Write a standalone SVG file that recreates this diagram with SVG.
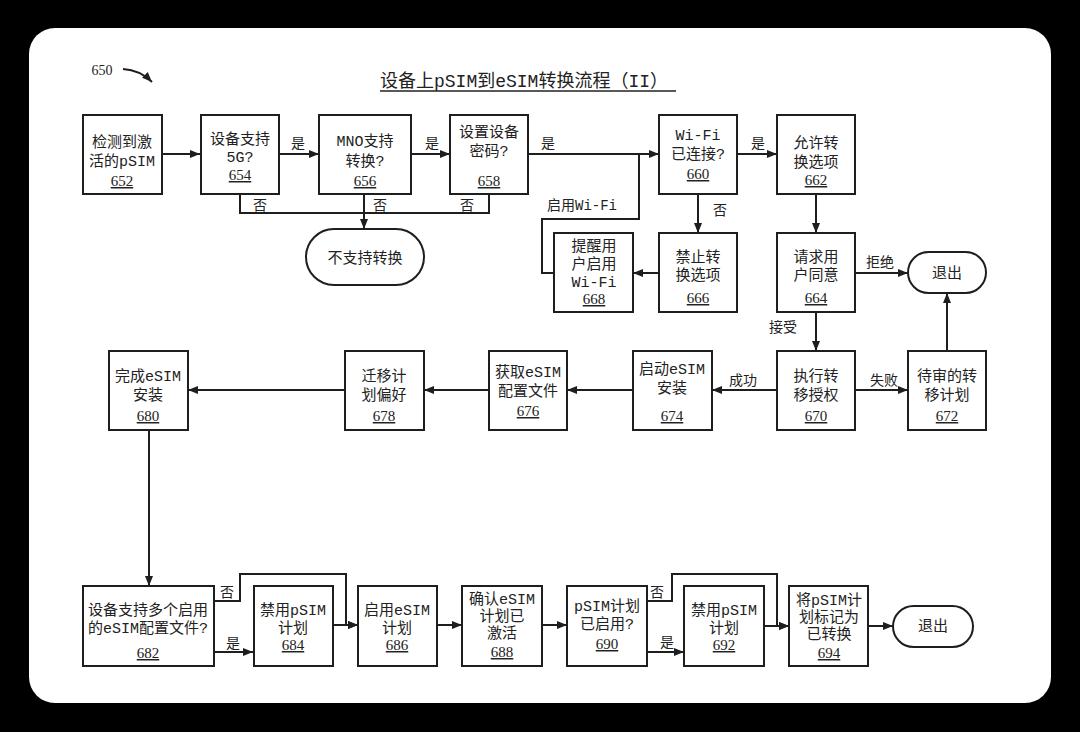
<svg xmlns="http://www.w3.org/2000/svg" width="1080" height="732" viewBox="0 0 1080 732">
<style>
.bx{fill:#fff;stroke:#1e1e1e;stroke-width:2}
.t{font-family:"Liberation Mono","Noto Sans CJK SC",monospace;font-size:15px;fill:#222;text-anchor:middle}
.n{font-family:"Liberation Serif","Noto Sans CJK SC",serif;font-size:15px;fill:#222;text-anchor:middle;text-decoration:underline}
.l{font-family:"Liberation Mono","Noto Sans CJK SC",monospace;font-size:14px;fill:#222;text-anchor:middle}
.c{fill:none;stroke:#1e1e1e;stroke-width:2}
</style>
<defs>
<marker id="ah" markerUnits="userSpaceOnUse" markerWidth="10" markerHeight="8" refX="10" refY="4" orient="auto">
<path d="M0,0 L10,4 L0,8 z" fill="#1e1e1e"/>
</marker>
</defs>
<rect width="1080" height="732" fill="#000"/>
<rect x="29" y="28" width="1022" height="675" rx="26" fill="#fff"/>

<g id="fig-label">
<text x="102" y="75" style="font-family:'Liberation Serif',serif;font-size:14px;fill:#222;text-anchor:middle">650</text>
<path d="M123,69 Q140,70 152,82" class="c" marker-end="url(#ah)"/>
</g>
<g id="title">
<text x="380" y="87" style="font-family:'Liberation Mono','Noto Sans CJK SC',monospace;font-size:18px;fill:#222">设备上pSIM到eSIM转换流程（II）</text>
<line x1="380" y1="91" x2="676" y2="91" stroke="#222" stroke-width="1.5"/>
</g>

<g id="connectors">
<path class="c" d="M162,154 H200" marker-end="url(#ah)"/>
<path class="c" d="M279,154 H319" marker-end="url(#ah)"/>
<path class="c" d="M411,154 H450" marker-end="url(#ah)"/>
<path class="c" d="M528,154 H659" marker-end="url(#ah)"/>
<path class="c" d="M240,194 V213 H489 V194"/>
<path class="c" d="M364,194 V229" marker-end="url(#ah)"/>
<path class="c" d="M737,154 H777" marker-end="url(#ah)"/>
<path class="c" d="M698,194 V233" marker-end="url(#ah)"/>
<path class="c" d="M659,273 H633" marker-end="url(#ah)"/>
<path class="c" d="M554,273 H542 V219 H639 V154"/>
<path class="c" d="M816,194 V233" marker-end="url(#ah)"/>
<path class="c" d="M855,273 H908" marker-end="url(#ah)"/>
<path class="c" d="M816,312 V351" marker-end="url(#ah)"/>
<path class="c" d="M855,390 H908" marker-end="url(#ah)"/>
<path class="c" d="M947,351 V293" marker-end="url(#ah)"/>
<path class="c" d="M777,390 H712" marker-end="url(#ah)"/>
<path class="c" d="M633,390 H567" marker-end="url(#ah)"/>
<path class="c" d="M489,390 H424" marker-end="url(#ah)"/>
<path class="c" d="M345,390 H188" marker-end="url(#ah)"/>
<path class="c" d="M149,430 V586" marker-end="url(#ah)"/>
<path class="c" d="M214,652 H253" marker-end="url(#ah)"/>
<path class="c" d="M214,601 H240 V574 H346 V625 H358" marker-end="url(#ah)"/>
<path class="c" d="M333,625 H358" marker-end="url(#ah)"/>
<path class="c" d="M437,625 H462" marker-end="url(#ah)"/>
<path class="c" d="M542,625 H567" marker-end="url(#ah)"/>
<path class="c" d="M647,652 H684" marker-end="url(#ah)"/>
<path class="c" d="M647,601 H672 V574 H777 V626 H789" marker-end="url(#ah)"/>
<path class="c" d="M764,626 H789" marker-end="url(#ah)"/>
<path class="c" d="M868,626 H893" marker-end="url(#ah)"/>
<text class="l" x="298" y="148">是</text>
<text class="l" x="432" y="148">是</text>
<text class="l" x="548" y="148">是</text>
<text class="l" x="260" y="210">否</text>
<text class="l" x="380" y="210">否</text>
<text class="l" x="467" y="210">否</text>
<text class="l" x="758" y="148">是</text>
<text class="l" x="720" y="215">否</text>
<text class="l" x="582" y="210">启用Wi-Fi</text>
<text class="l" x="880" y="267">拒绝</text>
<text class="l" x="783" y="332">接受</text>
<text class="l" x="884" y="385">失败</text>
<text class="l" x="743" y="385">成功</text>
<text class="l" x="227" y="597">否</text>
<text class="l" x="233" y="648">是</text>
<text class="l" x="657" y="597">否</text>
<text class="l" x="667" y="647">是</text>
</g>

<g id="n652"><rect class="bx" x="83" y="115" width="79" height="79"/><text class="t" x="122" y="147">检测到激</text><text class="t" x="122" y="166">活的pSIM</text><text class="n" x="122" y="186">652</text></g>
<g id="n654"><rect class="bx" x="201" y="115" width="78" height="79"/><text class="t" x="240" y="144">设备支持</text><text class="t" x="240" y="162">5G?</text><text class="n" x="240" y="180">654</text></g>
<g id="n656"><rect class="bx" x="319" y="115" width="92" height="79"/><text class="t" x="365" y="146">MNO支持</text><text class="t" x="365" y="166">转换?</text><text class="n" x="365" y="186">656</text></g>
<g id="n658"><rect class="bx" x="450" y="115" width="78" height="79"/><text class="t" x="489" y="137">设置设备</text><text class="t" x="489" y="156">密码?</text><text class="n" x="489" y="186">658</text></g>
<g id="n660"><rect class="bx" x="659" y="115" width="78" height="79"/><text class="t" x="698" y="140">Wi-Fi</text><text class="t" x="698" y="159">已连接?</text><text class="n" x="698" y="179">660</text></g>
<g id="n662"><rect class="bx" x="777" y="115" width="78" height="79"/><text class="t" x="816" y="148">允许转</text><text class="t" x="816" y="167">换选项</text><text class="n" x="816" y="185">662</text></g>
<g id="unsupported"><rect class="bx" x="306" y="229" width="118" height="56" rx="28"/><text class="t" x="365" y="263">不支持转换</text></g>
<g id="n668"><rect class="bx" x="554" y="233" width="79" height="79"/><text class="t" x="594" y="251">提醒用</text><text class="t" x="594" y="269">户启用</text><text class="t" x="594" y="287">Wi-Fi</text><text class="n" x="594" y="304">668</text></g>
<g id="n666"><rect class="bx" x="659" y="233" width="78" height="79"/><text class="t" x="698" y="262">禁止转</text><text class="t" x="698" y="280">换选项</text><text class="n" x="698" y="303">666</text></g>
<g id="n664"><rect class="bx" x="777" y="233" width="78" height="79"/><text class="t" x="816" y="262">请求用</text><text class="t" x="816" y="280">户同意</text><text class="n" x="816" y="303">664</text></g>
<g id="exit1"><rect class="bx" x="908" y="252" width="78" height="41" rx="20.5"/><text class="t" x="947" y="278">退出</text></g>
<g id="n670"><rect class="bx" x="777" y="351" width="78" height="79"/><text class="t" x="816" y="381">执行转</text><text class="t" x="816" y="400">移授权</text><text class="n" x="816" y="421">670</text></g>
<g id="n672"><rect class="bx" x="908" y="351" width="78" height="79"/><text class="t" x="947" y="381">待审的转</text><text class="t" x="947" y="400">移计划</text><text class="n" x="947" y="421">672</text></g>
<g id="n674"><rect class="bx" x="633" y="351" width="79" height="79"/><text class="t" x="672" y="374">启动eSIM</text><text class="t" x="672" y="393">安装</text><text class="n" x="672" y="421">674</text></g>
<g id="n676"><rect class="bx" x="489" y="351" width="78" height="79"/><text class="t" x="528" y="377">获取eSIM</text><text class="t" x="528" y="396">配置文件</text><text class="n" x="528" y="416">676</text></g>
<g id="n678"><rect class="bx" x="345" y="351" width="79" height="79"/><text class="t" x="384" y="381">迁移计</text><text class="t" x="384" y="400">划偏好</text><text class="n" x="384" y="421">678</text></g>
<g id="n680"><rect class="bx" x="109" y="351" width="79" height="79"/><text class="t" x="148" y="381">完成eSIM</text><text class="t" x="148" y="400">安装</text><text class="n" x="148" y="421">680</text></g>
<g id="n682"><rect class="bx" x="83" y="586" width="131" height="80"/><text class="t" x="148" y="615">设备支持多个启用</text><text class="t" x="148" y="633">的eSIM配置文件?</text><text class="n" x="148" y="658">682</text></g>
<g id="n684"><rect class="bx" x="254" y="586" width="79" height="80"/><text class="t" x="293" y="615">禁用pSIM</text><text class="t" x="293" y="633">计划</text><text class="n" x="293" y="650">684</text></g>
<g id="n686"><rect class="bx" x="358" y="586" width="79" height="80"/><text class="t" x="397" y="615">启用eSIM</text><text class="t" x="397" y="633">计划</text><text class="n" x="397" y="650">686</text></g>
<g id="n688"><rect class="bx" x="462" y="586" width="80" height="80"/><text class="t" x="502" y="604">确认eSIM</text><text class="t" x="502" y="621">计划已</text><text class="t" x="502" y="638">激活</text><text class="n" x="502" y="657">688</text></g>
<g id="n690"><rect class="bx" x="567" y="586" width="80" height="80"/><text class="t" x="607" y="611">pSIM计划</text><text class="t" x="607" y="629">已启用?</text><text class="n" x="607" y="649">690</text></g>
<g id="n692"><rect class="bx" x="684" y="586" width="80" height="80"/><text class="t" x="724" y="615">禁用pSIM</text><text class="t" x="724" y="633">计划</text><text class="n" x="724" y="650">692</text></g>
<g id="n694"><rect class="bx" x="789" y="586" width="79" height="80"/><text class="t" x="829" y="605">将pSIM计</text><text class="t" x="829" y="622">划标记为</text><text class="t" x="829" y="639">已转换</text><text class="n" x="829" y="658">694</text></g>
<g id="exit2"><rect class="bx" x="893" y="606" width="80" height="41" rx="20.5"/><text class="t" x="933" y="631">退出</text></g>
</svg>
